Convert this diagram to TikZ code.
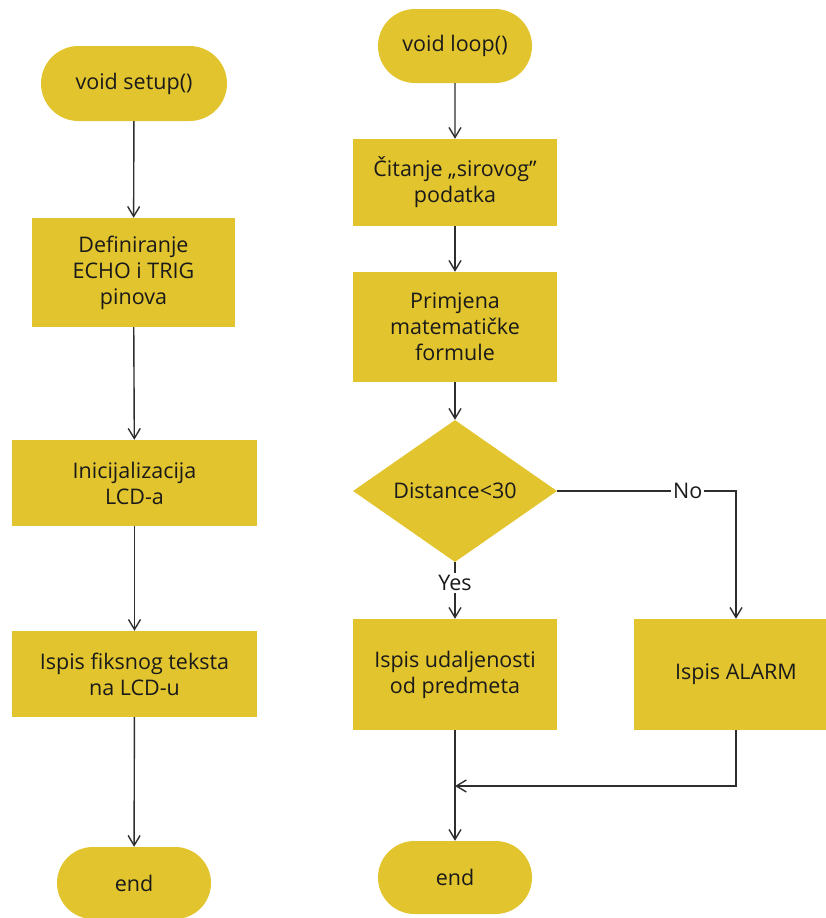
\documentclass[tikz,border=0pt]{standalone}
\usepackage{fontspec}
\setmainfont{Open Sans}
\usetikzlibrary{arrows.meta,shapes.geometric,shapes.misc}
\definecolor{boxfill}{HTML}{E2C42E}
\definecolor{txt}{HTML}{1A1A1A}
\definecolor{ln}{HTML}{2E2E2E}
\tikzset{
  base/.style={fill=boxfill, text=txt, align=center, inner sep=0pt,
    font=\fontsize{21.5}{26}\selectfont},
  term/.style={base, rounded rectangle},
  proc/.style={base, rectangle},
  decis/.style={base, diamond, aspect=1.44},
  conn/.style={draw=ln, line width=1.4pt, -{Straight Barb[length=10pt,width=12pt,line width=1.4pt]}},
  lbl/.style={fill=white, text=txt, inner sep=2pt, font=\fontsize{21.5}{26}\selectfont}
}
\begin{document}
\begin{tikzpicture}[x=1pt,y=-1pt]
\useasboundingbox (0,0) rectangle (826,918);
\clip (0,0) rectangle (826,918);
% left column
\node[term, minimum width=186pt, minimum height=75pt] (setup) at (134,83.5) {void setup()};
\node[proc, minimum width=203pt, minimum height=109pt] (def) at (133.5,272.5) {Definiranje\\ECHO i TRIG\\pinova};
\node[proc, minimum width=245pt, minimum height=86pt] (ini) at (134.5,483) {Inicijalizacija\\LCD-a};
\node[proc, minimum width=245pt, minimum height=86pt] (isf) at (134.5,674) {Ispis fiksnog teksta\\na LCD-u};
\node[term, minimum width=154pt, minimum height=72pt] (end1) at (134,883) {end};
% right column
\node[term, minimum width=154pt, minimum height=74pt] (loop) at (455,46) {void loop()};
\node[proc, minimum width=204pt, minimum height=87pt] (cit) at (455,182.5) {Čitanje „sirovog”\\podatka};
\node[proc, minimum width=204pt, minimum height=110pt] (prim) at (455,327) {Primjena\\matematičke\\formule};
\node[decis, minimum width=204pt, minimum height=142pt] (dec) at (455,491) {Distance<30};
\node[proc, minimum width=204pt, minimum height=111pt] (isu) at (455,674.5) {Ispis udaljenosti\\od predmeta};
\node[proc, minimum width=204pt, minimum height=111pt] (alarm) at (736,674.5) {Ispis ALARM};
\node[term, minimum width=154pt, minimum height=73pt] (end2) at (455,877.5) {end};
\coordinate (merge) at (455,786);
\coordinate (corner) at (736,786);
% connectors
\draw[conn] (setup) -- (def);
\draw[conn] (def) -- (ini);
\draw[conn] (ini) -- (isf);
\draw[conn] (isf) -- (end1);
\draw[conn] (loop) -- (cit);
\draw[conn] (cit) -- (prim);
\draw[conn] (prim) -- (dec);
\draw[conn] (dec) -- node[lbl, pos=0.37] {Yes} (isu);
\draw[conn] (dec.east) -- node[lbl, pos=0.73] {No} (dec.east -| alarm.north) -- (alarm.north);
\draw[conn] (isu) -- (end2);
\draw[conn] (alarm.south) -- (corner) -- (merge);
\end{tikzpicture}
\end{document}
